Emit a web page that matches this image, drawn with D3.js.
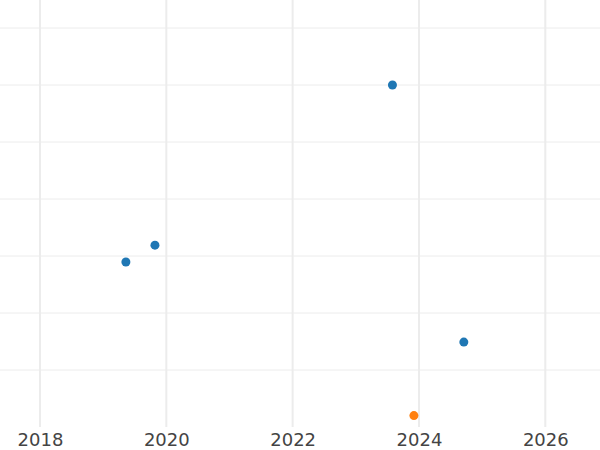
<!DOCTYPE html>
<html><head><meta charset="utf-8">
<script src="https://cdn.jsdelivr.net/npm/d3@7"></script>
<style>body{margin:0;background:#fff}svg{display:block}</style>
</head><body>
<svg id="c" width="600" height="450"></svg>
<script>
const xTicks = [2018, 2020, 2022, 2024, 2026];
const yTicks = [1, 2, 3, 4, 5, 6, 7];
const blueX = [2019.36, 2019.82, 2023.58, 2024.71];
const blueY = [2.895, 3.19, 6.0, 1.49];
const orangeX = [2023.92];
const orangeY = [0.2];

const svg = d3.select("#c");
const W = 600, plotBottom = 427;
const x = d3.scaleLinear().domain([2018, 2026]).range([40, 545.3]);
const y = d3.scaleLinear().domain([0, 7]).range([plotBottom, plotBottom - 7 * 57]);

svg.append("g").selectAll("line").data(yTicks).join("line")
  .attr("x1", 0).attr("x2", W)
  .attr("y1", d => y(d)).attr("y2", d => y(d))
  .attr("stroke", "#ececec").attr("stroke-width", 1);

svg.append("g").selectAll("line").data(xTicks).join("line")
  .attr("x1", d => x(d)).attr("x2", d => x(d))
  .attr("y1", 0).attr("y2", plotBottom)
  .attr("stroke", "#ececec").attr("stroke-width", 2);

const xAxis = d3.axisBottom(x).tickValues(xTicks).tickFormat(d3.format("d")).tickSize(0).tickPadding(6);
const gx = svg.append("g").attr("transform", `translate(0,${plotBottom})`).call(xAxis);
gx.select(".domain").remove();
gx.selectAll("text").attr("font-family", "DejaVu Sans").attr("font-size", 18).attr("fill", "#444");

const blue = blueX.map((v, i) => ({x: v, y: blueY[i]}));
const orange = orangeX.map((v, i) => ({x: v, y: orangeY[i]}));

svg.append("g").selectAll("circle").data(blue).join("circle")
  .attr("cx", d => x(d.x)).attr("cy", d => y(d.y)).attr("r", 4.5).attr("fill", "#1f77b4");
svg.append("g").selectAll("circle").data(orange).join("circle")
  .attr("cx", d => x(d.x)).attr("cy", d => y(d.y)).attr("r", 4.5).attr("fill", "#ff7f0e");
</script>
</body></html>
